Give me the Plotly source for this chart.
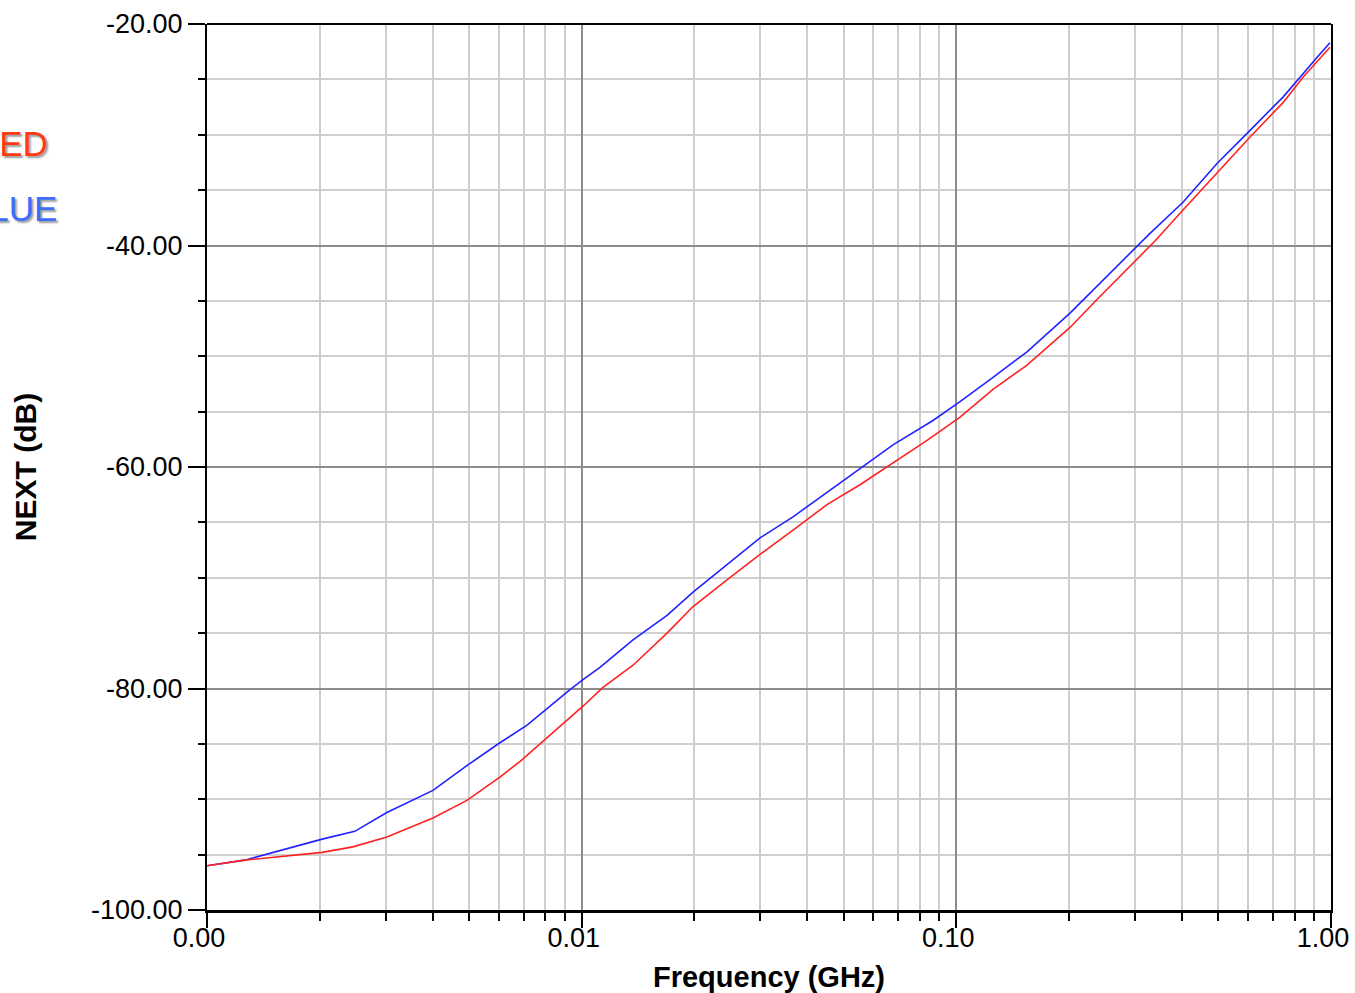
import plotly.graph_objects as go

# ---- data ----
blue_freq = [0.001, 0.00126, 0.00203, 0.00248, 0.00302, 0.00355, 0.00401, 0.00497, 0.00605,
             0.00715, 0.00788, 0.00931, 0.01008, 0.01119, 0.01371, 0.01690, 0.01983, 0.02443,
             0.02993, 0.03666, 0.04515, 0.05531, 0.06776, 0.08665, 0.1023, 0.1253, 0.1544,
             0.2011, 0.2417, 0.3034, 0.3288, 0.4027, 0.4963, 0.6081, 0.7447, 0.9184, 0.9937]
blue_next = [-96.0, -95.5, -93.6, -92.9, -91.2, -90.1, -89.2, -86.9, -84.9,
             -83.3, -82.1, -80.1, -79.2, -78.1, -75.6, -73.4, -71.3, -68.8,
             -66.4, -64.5, -62.3, -60.1, -58.0, -55.8, -54.1, -51.9, -49.6,
             -46.1, -43.4, -40.1, -38.9, -36.1, -32.6, -29.6, -26.6, -23.0, -21.7]

red_freq = [0.001, 0.00126, 0.00203, 0.00245, 0.00302, 0.00401, 0.00494, 0.00605, 0.00684,
            0.00788, 0.00948, 0.01008, 0.01140, 0.01371, 0.01690, 0.01983, 0.02443, 0.02993,
            0.03666, 0.04515, 0.05531, 0.06776, 0.08354, 0.1023, 0.1253, 0.1544, 0.2011,
            0.2417, 0.3089, 0.3390, 0.4027, 0.4963, 0.6081, 0.7447, 0.8418, 0.9937]
red_next = [-96.0, -95.5, -94.8, -94.3, -93.4, -91.7, -90.1, -88.0, -86.6,
            -84.8, -82.4, -81.6, -79.9, -77.9, -75.0, -72.6, -70.2, -67.9,
            -65.7, -63.4, -61.6, -59.6, -57.6, -55.5, -53.0, -50.8, -47.4,
            -44.6, -41.0, -39.6, -36.8, -33.5, -30.2, -27.1, -24.8, -22.1]

x_tickvals = [0.001, 0.01, 0.1, 1.0]
x_ticktext = ["0.00", "0.01", "0.10", "1.00"]
x_minorvals = [m * d for d in (0.001, 0.01, 0.1) for m in range(2, 10)]
y_tickvals = [-100, -80, -60, -40, -20]
y_ticktext = ["-100.00", "-80.00", "-60.00", "-40.00", "-20.00"]

series_names = ["RED", "BLUE"]
series_colors = ["#FF3A12", "#3D6CFF"]

FONT = "Liberation Sans, Arial, sans-serif"

fig = go.Figure()
fig.add_trace(go.Scatter(x=blue_freq, y=blue_next, mode="lines", name="BLUE",
                         line=dict(color="#2222FF", width=1.6), showlegend=False))
fig.add_trace(go.Scatter(x=red_freq, y=red_next, mode="lines", name="RED",
                         line=dict(color="#FF2222", width=1.6), showlegend=False))

fig.update_layout(
    width=1355, height=993,
    margin=dict(l=207, r=24, t=24, b=83, autoexpand=False),
    paper_bgcolor="white", plot_bgcolor="white",
    font=dict(family=FONT, color="black", size=27),
    xaxis=dict(
        type="log", range=[-3, 0],
        tickmode="array", tickvals=x_tickvals, ticktext=x_ticktext,
        ticks="outside", ticklen=15, tickwidth=1.5, tickcolor="black",
        ticklabelshift=-8, ticklabelstandoff=-13,
        showgrid=True, gridcolor="#8c8c8c", gridwidth=1.5,
        minor=dict(tickmode="array", tickvals=x_minorvals, ticks="outside", ticklen=8,
                   tickwidth=1.5, tickcolor="black",
                   showgrid=True, gridcolor="#cfcfcf", gridwidth=1.5),
        showline=True, linecolor="black", linewidth=3, mirror=False,
        zeroline=False,
        tickfont=dict(family=FONT, size=27, color="black"),
        title=dict(text="<b>Frequency (GHz)</b>", standoff=25,
                   font=dict(family=FONT, size=29, color="black")),
        automargin=False,
    ),
    yaxis=dict(
        range=[-100, -20],
        tickmode="array", tickvals=y_tickvals, ticktext=y_ticktext,
        ticks="outside", ticklen=17, tickwidth=1.5, tickcolor="black",
        showgrid=True, gridcolor="#8c8c8c", gridwidth=1.5,
        minor=dict(dtick=5, ticks="outside", ticklen=7, tickwidth=1.5, tickcolor="black",
                   showgrid=True, gridcolor="#cfcfcf", gridwidth=1.5),
        showline=True, linecolor="black", linewidth=2, mirror=True,
        zeroline=False,
        tickfont=dict(family=FONT, size=27, color="black"),
        title=dict(text="<b>NEXT (dB)</b>", standoff=46,
                   font=dict(family=FONT, size=30, color="black")),
        automargin=False,
    ),
)

# top border
fig.add_shape(type="line", xref="paper", yref="paper", x0=0, x1=1, y0=1, y1=1,
              line=dict(color="black", width=2))

# legend-like labels (partially cut off on the left edge, as in the reference)
legend_y = [0.8646, 0.7923]
legend_x = [-0.1395, -0.1320]
for name, col, xx, yy in zip(series_names, series_colors, legend_x, legend_y):
    fig.add_annotation(xref="paper", yref="paper", x=xx, y=yy, xanchor="right", yanchor="middle",
                       text=name, showarrow=False,
                       font=dict(family=FONT, size=35, color=col, shadow="2px 2px 2px #9a9a9a"))

fig.write_html("out.html", config={"displayModeBar": False},
               post_script="document.body.style.margin='0';document.body.style.overflow='hidden';")
